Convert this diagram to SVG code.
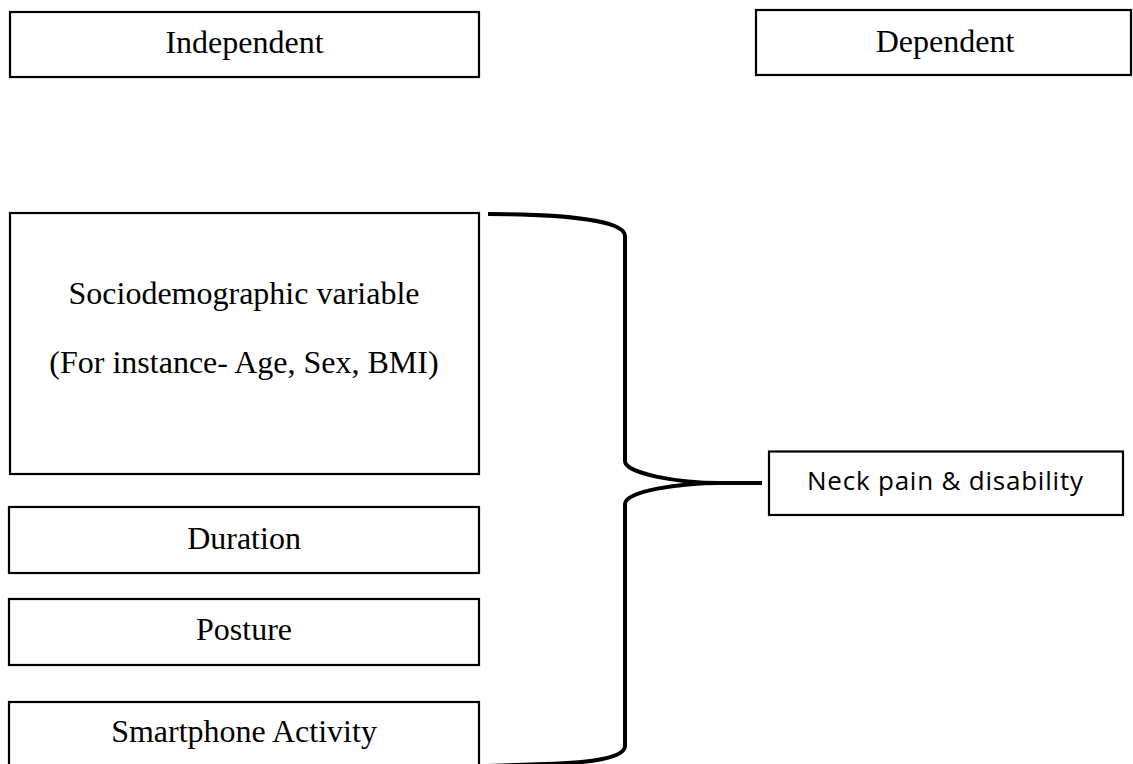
<svg xmlns="http://www.w3.org/2000/svg" width="1133" height="764" viewBox="0 0 1133 764">
<style>
.box{fill:#fff;stroke:#000;stroke-width:2.2}
.t{font-family:"Liberation Serif","Times New Roman",serif;font-size:32px;fill:#000;text-anchor:middle}
.s{font-family:"Open Sans","Liberation Sans",sans-serif;font-size:26px;fill:#000;text-anchor:middle}
.brace{fill:none;stroke:#000;stroke-width:4;stroke-linejoin:round}
</style>
<rect width="1133" height="764" fill="#fff"/>
<g id="independent">
<rect class="box" x="10" y="12" width="469" height="65"/>
<text class="t" x="244.5" y="53">Independent</text>
</g>
<g id="dependent">
<rect class="box" x="756" y="10" width="375" height="65"/>
<text class="t" x="945" y="52">Dependent</text>
</g>
<g id="sociodemographic">
<rect class="box" x="10" y="213" width="469" height="261"/>
<text class="t" x="244" y="304">Sociodemographic variable</text>
<text class="t" x="244" y="373">(For instance- Age, Sex, BMI)</text>
</g>
<g id="duration">
<rect class="box" x="9" y="507" width="470" height="66"/>
<text class="t" x="244" y="549">Duration</text>
</g>
<g id="posture">
<rect class="box" x="9" y="599" width="470" height="66"/>
<text class="t" x="244" y="640">Posture</text>
</g>
<g id="smartphone">
<rect class="box" x="9" y="702" width="470" height="80"/>
<text class="t" x="244" y="742">Smartphone Activity</text>
</g>
<g id="neckpain">
<rect class="box" x="769" y="451.5" width="354" height="63.5"/>
<text class="s" x="945" y="490" textLength="276" lengthAdjust="spacing">Neck pain &amp; disability</text>
</g>
<g id="connectors">
<path class="brace" d="M488,214 C575,214 625,222 625,236 L625,461 C625,474 680,483 720,483 L762,483 M720,483 C680,483 625,491 625,504 L625,746 C625,757 595,763 545,764 L488,766"/>
</g>
</svg>
